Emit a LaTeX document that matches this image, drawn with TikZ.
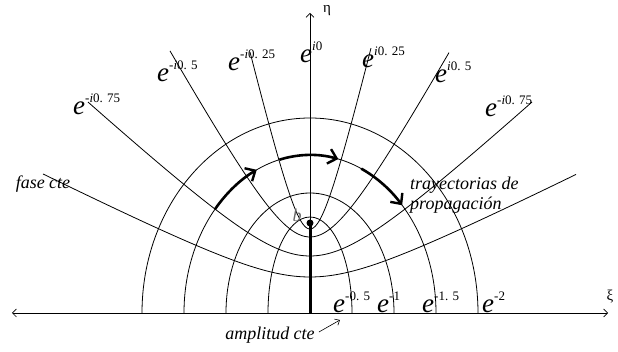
\documentclass[tikz,border=0pt]{standalone}
\usepackage{fontspec}
\setmainfont{Liberation Serif}
\usetikzlibrary{arrows.meta}

% e with a small exponent
\newcommand{\ampl}[1]{{\fontsize{27}{27}\selectfont\itshape e}\raisebox{12pt}{\fontsize{13}{13}\selectfont #1}}

\begin{document}
\begin{tikzpicture}[x=10pt, y=10pt,
    axis/.style={line width=0.7pt, {Straight Barb[length=4pt,width=8pt]}-{Straight Barb[length=4pt,width=8pt]}},
    curve/.style={line width=0.8pt},
    trayect/.style={line width=2.6pt, -{Straight Barb[length=8pt,width=15pt,line width=2.4pt]}},
    elabel/.style={anchor=base west, inner sep=0pt},
    itlabel/.style={font=\fontsize{18}{20}\selectfont\itshape, inner sep=0pt}
]
\useasboundingbox (-31,-3.9) rectangle (30.8,31.3);

% --- axes ---
\coordinate (o) at (0,0);
\coordinate (xl) at (-29.8,0);
\coordinate (xr) at (29.8,0);
\coordinate (yt) at (0,30.0);
\draw[axis] (xl) -- (xr);
\draw[axis, -{Straight Barb[length=4pt,width=8pt]}] (o) -- (yt);
\node[font=\fontsize{15}{15}\selectfont, inner sep=0pt] (eta) at (1.7,30.2) {η};
\node[font=\fontsize{15}{15}\selectfont, inner sep=0pt] (xi) at (30.0,1.6) {ξ};

% --- amplitud cte (ellipses) ---
\foreach \A/\B in {4.2/9.6, 8.4/12.0, 12.6/15.8, 16.8/19.5}
    \draw[curve] (\A,0) arc[start angle=0, end angle=180, x radius=\A, y radius=\B];

% --- fase cte (hyperbolas) ---
\foreach \a/\m/\l/\r in {8.4/16.96/-6.0/6.1, 7.6/3.21/-14.0/13.9, 5.7/0.837/-22.2/22.2, 3.6/0.253/-26.7/26.6}
    \draw[curve] plot[domain=\l:\r, samples=90, smooth] (\x, {sqrt(\a*\a+\m*\x*\x)});

% --- focus ---
\node[circle, fill, inner sep=0pt, minimum size=7pt] (foco) at (0,9.0) {};
\draw[line width=3pt] (foco.center) -- (o);
\node[font=\fontsize{18}{18}\selectfont\itshape, text=black!60, inner sep=0pt] (bfoco) at (-1.3,9.8) {b};

% --- trayectorias ---
\draw[trayect] (139:12.6 and 15.8) arc[start angle=139, end angle=115, x radius=12.6, y radius=15.8];
\draw[trayect] (104:12.6 and 15.8) arc[start angle=104, end angle=77, x radius=12.6, y radius=15.8];
\draw[trayect] (66:12.6 and 15.8) arc[start angle=66, end angle=43, x radius=12.6, y radius=15.8];

% --- phase labels ---
\node[elabel] (ph0)  at (-1.0,25.0)  {\ampl{\textit{i}0}};
\node[elabel] (phm1) at (-8.2,24.2)  {\ampl{-\textit{i}0. 25}};
\node[elabel] (phm2) at (-15.3,23.1) {\ampl{-\textit{i}0. 5}};
\node[elabel] (phm3) at (-23.7,19.8) {\ampl{-\textit{i}0. 75}};
\node[elabel] (php1) at (5.2,24.5)   {\ampl{\textit{i}0. 25}};
\node[elabel] (php2) at (12.5,23.0)  {\ampl{\textit{i}0. 5}};
\node[elabel] (php3) at (17.5,19.6)  {\ampl{-\textit{i}0. 75}};

% --- amplitude labels ---
\node[elabel] (am1) at (2.3,0)  {\ampl{-0. 5}};
\node[elabel] (am2) at (6.7,0)  {\ampl{-1}};
\node[elabel] (am3) at (11.2,0) {\ampl{-1. 5}};
\node[elabel] (am4) at (17.2,0) {\ampl{-2}};

% --- texts ---
\node[itlabel] (fase) at (-26.7,12.9) {fase cte};
\node[itlabel, align=left, anchor=west] (tray) at (10.0,11.8) {trayectorias de\\propagación};
\node[itlabel] (amplt) at (-4.0,-2.2) {amplitud cte};
\coordinate (amplTip) at (3.0,-0.7);
\draw[line width=0.6pt, -{Straight Barb[length=4pt,width=7pt]}] ([xshift=4pt,yshift=3pt]amplt.east) -- (amplTip);
\end{tikzpicture}
\end{document}
